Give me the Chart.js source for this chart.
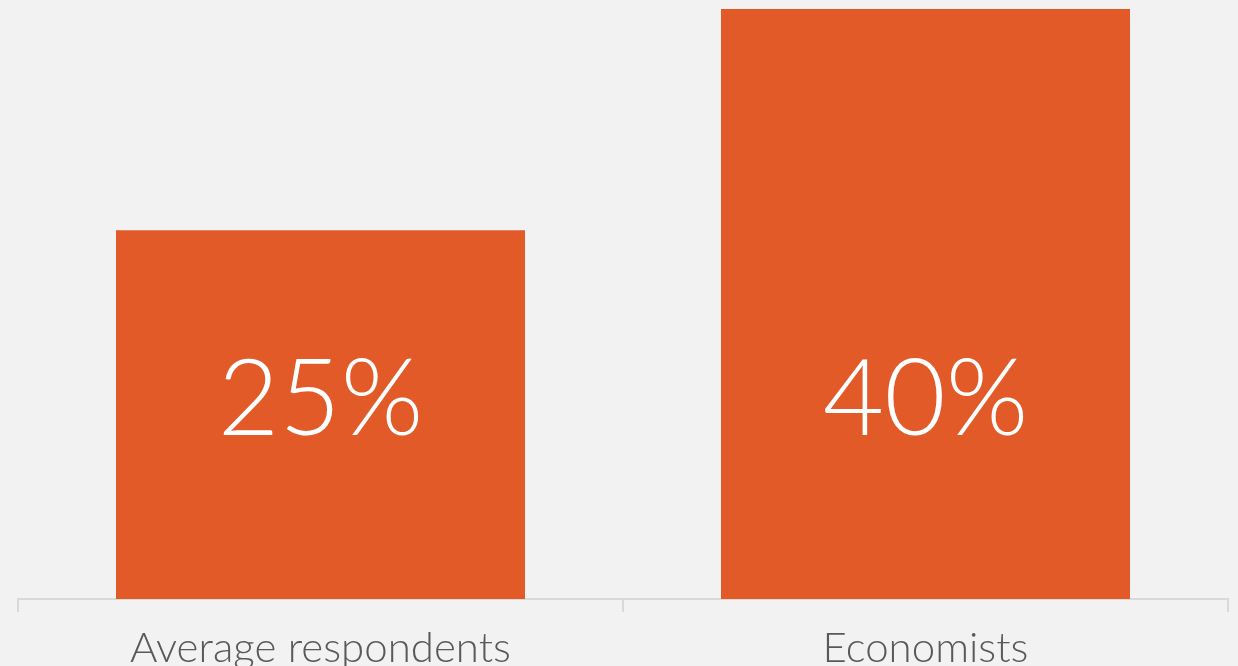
<!DOCTYPE html>
<html>
<head>
<meta charset="utf-8">
<script src="https://cdn.jsdelivr.net/npm/chart.js@4/dist/chart.umd.min.js"></script>
<style>
  html, body { margin: 0; padding: 0; background: #f2f2f2; overflow: hidden; }
  #wrap { width: 1238px; height: 700px; position: relative; }
</style>
</head>
<body>
<div id="wrap"><canvas id="shareChart"></canvas></div>
<script>
const categories = ['Average respondents', 'Economists'];
const shares = [25, 40];
const valueLabels = ['25%', '40%'];

// big white value text, sitting a fixed distance above the bar base
const barValueText = {
  id: 'barValueText',
  afterDatasetsDraw(chart) {
    const ctx = chart.ctx;
    const meta = chart.getDatasetMeta(0);
    const yBase = chart.scales.y.getPixelForValue(0);
    ctx.save();
    ctx.fillStyle = '#ffffff';
    ctx.font = '300 106px Lato, "DejaVu Sans", sans-serif';
    ctx.textAlign = 'center';
    ctx.textBaseline = 'middle';
    meta.data.forEach((bar, i) => {
      ctx.fillText(valueLabels[i], bar.x, yBase - 198);
    });
    ctx.restore();
  }
};

new Chart(document.getElementById('shareChart'), {
  type: 'bar',
  data: {
    labels: categories,
    datasets: [{
      data: shares,
      backgroundColor: '#e25a27',
      borderWidth: 0,
      categoryPercentage: 1,
      barPercentage: 0.676
    }]
  },
  options: {
    responsive: true,
    maintainAspectRatio: false,
    animation: false,
    layout: { padding: { top: 9, left: 18, right: 10, bottom: 15 } },
    plugins: {
      legend: { display: false },
      tooltip: { enabled: false }
    },
    scales: {
      x: {
        border: { color: '#d9d9d9', width: 2 },
        grid: {
          offset: true,
          drawOnChartArea: false,
          color: '#d9d9d9',
          lineWidth: 2,
          tickLength: 13
        },
        ticks: {
          color: '#595959',
          padding: 5,
          font: { family: 'Lato, "DejaVu Sans", sans-serif', size: 42, weight: 300, lineHeight: 1.5 }
        }
      },
      y: {
        display: false,
        min: 0,
        max: 40
      }
    }
  },
  plugins: [barValueText]
});
</script>
</body>
</html>
